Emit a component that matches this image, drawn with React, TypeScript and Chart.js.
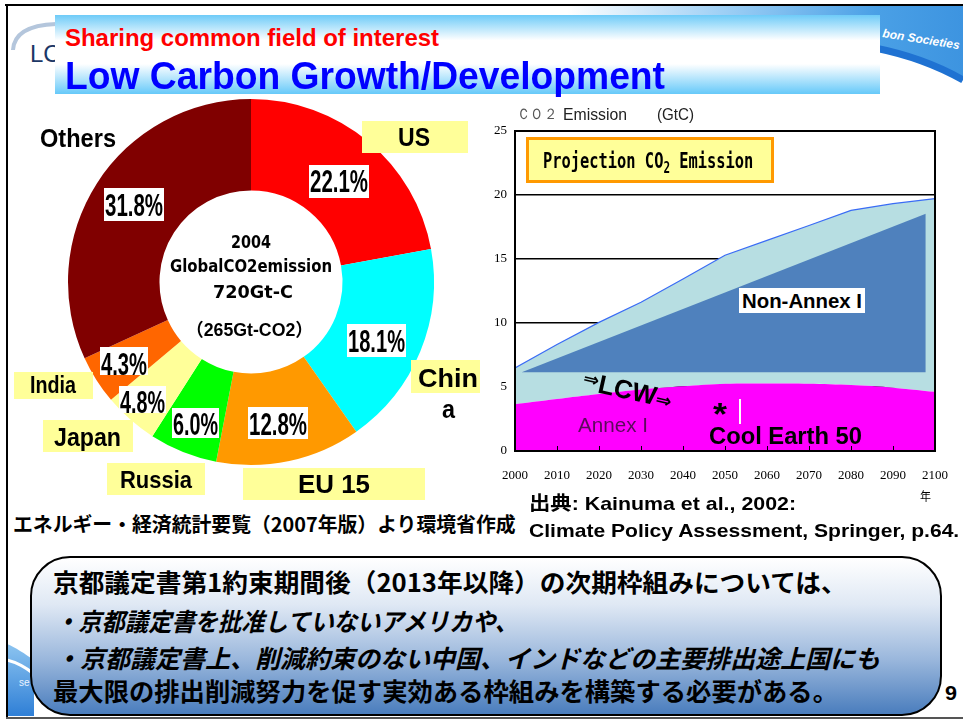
import React, { useEffect, useRef } from "react";
import { Chart, registerables } from "chart.js";
Chart.register(...registerables);

// ---------- data ----------
const shareLabels = ["US", "China", "EU 15", "Russia", "Japan", "India", "Others"];
const shareValues = [22.1, 18.1, 12.8, 6.0, 4.8, 4.3, 31.8];
const shareColors = ["#FF0000", "#00FFFF", "#FF9900", "#00FF00", "#FFFF99", "#FF6600", "#800000"];

const years = [2000, 2010, 2020, 2030, 2040, 2050, 2060, 2070, 2080, 2090, 2100];
const annexI = [3.66, 4.06, 4.45, 4.8, 5.05, 5.25, 5.27, 5.25, 5.15, 4.95, 4.62];
const totalEmission = [6.49, 8.32, 10.05, 11.62, 13.43, 15.29, 16.45, 17.62, 18.8, 19.32, 19.72];
const nonAnnexX = [2001.6, 2097.8];
const nonAnnexTop = [6.15, 18.53];
const nonAnnexBase = [6.15, 6.15];
const yTicks = [0, 5, 10, 15, 20, 25];

// ---------- fonts ----------
const SANS = "'Liberation Sans', Arial, Helvetica, sans-serif";
const SANS_CJK = "'Liberation Sans', 'Noto Sans CJK JP', sans-serif";
const CJK = "'Noto Sans CJK JP', 'Noto Sans CJK SC', sans-serif";
const DEJA = "'DejaVu Sans', sans-serif";
const MONO = "'DejaVu Sans Mono', monospace";
const SERIF = "'Liberation Serif', 'Times New Roman', serif";

const mctx = document.createElement("canvas").getContext("2d") as CanvasRenderingContext2D;
function measure(text: string, font: string) {
  mctx.font = font;
  return mctx.measureText(text).width;
}

type TP = {
  t: string; x: number; cy: number; s: number; w?: number; c?: string; wt?: number;
  f?: string; it?: boolean; al?: "left" | "center"; yk?: number; z?: number;
};
function T({ t, x, cy, s, w, c = "#000", wt = 700, f = SANS, it = false, al = "left", yk = 0.49, z = 6 }: TP) {
  const font = `${it ? "italic " : ""}${wt} ${s}px ${f}`;
  const nat = measure(t, font) || 1;
  const sx = w ? w / nat : 1;
  const width = w ?? nat;
  const left = al === "center" ? x - width / 2 : x;
  return (
    <div
      style={{
        position: "absolute", left, top: cy - yk * s, fontFamily: f, fontSize: s, fontWeight: wt,
        fontStyle: it ? "italic" : "normal", lineHeight: `${s}px`, color: c, whiteSpace: "nowrap",
        transform: `scaleX(${sx})`, transformOrigin: "0 0", zIndex: z,
      }}
    >
      {t}
    </div>
  );
}

function Box({ x, y, w, h, bg, z = 5, border }: { x: number; y: number; w: number; h: number; bg: string; z?: number; border?: string }) {
  return (
    <div style={{ position: "absolute", left: x, top: y, width: w, height: h, background: bg, zIndex: z, border, boxSizing: "border-box" }} />
  );
}

// ---------- charts ----------
function Donut() {
  const ref = useRef<HTMLCanvasElement>(null);
  useEffect(() => {
    const chart = new Chart(ref.current as HTMLCanvasElement, {
      type: "doughnut",
      data: {
        labels: shareLabels,
        datasets: [{ data: shareValues, backgroundColor: shareColors, borderWidth: 0 }],
      },
      options: {
        animation: false,
        responsive: false,
        cutout: "50%",
        layout: { padding: 7 },
        plugins: { legend: { display: false }, tooltip: { enabled: false } },
      },
    });
    return () => chart.destroy();
  }, []);
  return (
    <canvas ref={ref} width={380} height={380}
      style={{ position: "absolute", left: 61, top: 92, width: 380, height: 380, zIndex: 1 }} />
  );
}

const framePlugin = {
  id: "frame",
  afterDatasetsDraw(chart: any) {
    const { ctx, chartArea: a, scales } = chart;
    ctx.save();
    ctx.strokeStyle = "#000";
    ctx.lineWidth = 1;
    years.slice(1, -1).forEach((v) => {
      const px = Math.round(scales.x.getPixelForValue(v)) + 0.5;
      ctx.beginPath();
      ctx.moveTo(px, a.bottom);
      ctx.lineTo(px, a.bottom - 5);
      ctx.stroke();
    });
    ctx.lineWidth = 2;
    ctx.strokeRect(a.left, a.top, a.right - a.left, a.bottom - a.top);
    ctx.restore();
  },
};

function AreaChart() {
  const ref = useRef<HTMLCanvasElement>(null);
  useEffect(() => {
    const chart = new Chart(ref.current as HTMLCanvasElement, {
      type: "line",
      data: {
        datasets: [
          {
            label: "Non-Annex I",
            data: nonAnnexX.map((x, i) => ({ x, y: nonAnnexTop[i] })),
            borderWidth: 0, borderColor: "rgba(0,0,0,0)", pointRadius: 0,
            fill: 1, backgroundColor: "#4F81BD",
          },
          {
            label: "base",
            data: nonAnnexX.map((x, i) => ({ x, y: nonAnnexBase[i] })),
            borderWidth: 0, borderColor: "rgba(0,0,0,0)", pointRadius: 0, fill: false,
          },
          {
            label: "Annex I",
            data: years.map((x, i) => ({ x, y: annexI[i] })),
            borderWidth: 0, borderColor: "rgba(0,0,0,0)", pointRadius: 0,
            fill: "origin", backgroundColor: "#FF00FF", tension: 0.3,
          },
          {
            label: "Total",
            data: years.map((x, i) => ({ x, y: totalEmission[i] })),
            borderWidth: 1.2, borderColor: "#3A6CF5", pointRadius: 0,
            fill: 2, backgroundColor: "#B7DEE2", tension: 0,
          },
        ],
      },
      options: {
        animation: false,
        responsive: false,
        layout: { padding: { top: 21, right: 0, left: 0, bottom: 0 } },
        plugins: { legend: { display: false }, tooltip: { enabled: false } },
        scales: {
          x: {
            type: "linear", min: 2000, max: 2100,
            afterFit: (s: any) => { s.height = 40; },
            afterBuildTicks: (s: any) => { s.ticks = years.map((v) => ({ value: v })); },
            grid: { display: false, drawTicks: false },
            border: { display: false },
            ticks: {
              autoSkip: false, maxRotation: 0, padding: 17, color: "#000",
              font: { family: SERIF, size: 13 }, callback: (v: any) => String(v),
            },
          },
          y: {
            min: 0, max: 25,
            afterFit: (s: any) => { s.width = 45; },
            afterBuildTicks: (s: any) => { s.ticks = yTicks.map((v) => ({ value: v })); },
            grid: { color: "#000", lineWidth: 1.5, drawTicks: false },
            border: { display: false },
            ticks: { padding: 8, color: "#000", font: { family: SERIF, size: 13 }, callback: (v: any) => String(v) },
          },
        },
      },
      plugins: [framePlugin],
    });
    return () => chart.destroy();
  }, []);
  return (
    <canvas ref={ref} width={495} height={381}
      style={{ position: "absolute", left: 470, top: 110, width: 495, height: 381, zIndex: 1 }} />
  );
}

// ---------- app ----------
export default function App() {
  const projFont = `700 21px ${MONO}`;
  return (
    <div style={{ position: "absolute", left: 0, top: 0, width: 963, height: 722, background: "#fff", overflow: "hidden" }}>
      {/* background decorations */}
      <svg style={{ position: "absolute", left: 0, top: 0, zIndex: 0 }} width={963} height={130}>
        <defs>
          <linearGradient id="skyG" x1="0" y1="0" x2="1" y2="0">
            <stop offset="0" stopColor="#ffffff" />
            <stop offset="0.18" stopColor="#ffffff" />
            <stop offset="0.5" stopColor="#9fd0f5" />
            <stop offset="0.82" stopColor="#4aa0e6" />
            <stop offset="1" stopColor="#3d94e0" />
          </linearGradient>
        </defs>
        <path d="M480 6 L963 6 L963 80 C935 64 905 54 875 48 C780 36 640 24 480 14 Z" fill="url(#skyG)" />
        <path d="M875 48 C905 54 935 64 963 80" stroke="#1f72d2" strokeWidth={7} fill="none" />
        <text x={882} y={37} fill="#ffffff" fontSize={12} fontStyle="italic" fontWeight="bold"
          fontFamily={SANS} transform="rotate(9 882 37)">bon Societies</text>
        <path d="M13 50 C14 33 30 25 56 24" stroke="#b4c6dc" strokeWidth={4} fill="none" />
        <text x={30} y={62} fill="#1c3766" fontSize={24} fontFamily={SANS}>LC</text>
      </svg>
      <svg style={{ position: "absolute", left: 0, top: 630, zIndex: 0 }} width={40} height={92}>
        <defs>
          <linearGradient id="blG" x1="0" y1="0" x2="0" y2="1">
            <stop offset="0" stopColor="#8cc4f0" />
            <stop offset="1" stopColor="#2f7fd6" />
          </linearGradient>
        </defs>
        <path d="M7 14 C15 17 25 24 34 30 L34 86 L7 86 Z" fill="url(#blG)" />
        <path d="M7 30 C15 32 24 36 34 44" stroke="#ffffff" strokeWidth={3} fill="none" />
        <text x={19} y={56} fill="#e8f2ff" fontSize={10} fontFamily={SANS}>se</text>
      </svg>

      {/* slide frame */}
      <div style={{ position: "absolute", left: 5, top: 4, width: 958, height: 2, background: "#000", zIndex: 3 }} />
      <div style={{ position: "absolute", left: 6, top: 4, width: 2, height: 715, background: "#000", zIndex: 3 }} />
      <div style={{ position: "absolute", left: 6, top: 717, width: 957, height: 2, background: "#555", zIndex: 3 }} />

      {/* title */}
      <div style={{
        position: "absolute", left: 55, top: 15, width: 825, height: 79, zIndex: 2,
        background: "linear-gradient(to bottom, #6ECBF8 0%, #ffffff 32%, #ffffff 62%, #66C9F9 100%)",
      }} />
      <T t="Sharing common field of interest" x={65} cy={37.5} s={24} w={374} c="#FF0000" />
      <T t="Low Carbon Growth/Development" x={65} cy={76} s={38} w={600} c="#0000FF" />

      {/* donut */}
      <Donut />
      <T t="2004" x={251} cy={242} s={18} w={40} al="center" f={DEJA} yk={0.48} />
      <T t="GlobalCO2emission" x={251} cy={266} s={18} w={162} al="center" f={DEJA} yk={0.48} />
      <T t="720Gt-C" x={253} cy={292} s={18} w={80} al="center" f={DEJA} yk={0.48} />
      <T t="（265Gt-CO2）" x={249} cy={330} s={18} w={127} al="center" f={SANS_CJK} wt={700} yk={0.49} />

      <T t="Others" x={40} cy={138} s={26} w={76} />
      <Box x={362} y={121} w={106} h={32} bg="#FFFF99" />
      <T t="US" x={414} cy={137} s={25} w={32} al="center" />
      <Box x={309} y={165} w={60} h={33} bg="#FFFFFF" />
      <T t="22.1%" x={339} cy={181} s={32} w={58} al="center" />
      <Box x={104} y={188} w={60} h={33} bg="#FFFFFF" />
      <T t="31.8%" x={134} cy={204.5} s={32} w={58} al="center" />
      <Box x={347} y={324} w={59} h={33} bg="#FFFFFF" />
      <T t="18.1%" x={376.5} cy={341} s={32} w={57} al="center" />
      <Box x={411} y={360} w={69} h={33} bg="#FFFF99" />
      <T t="Chin" x={418} cy={378} s={25} w={60} />
      <T t="a" x={442} cy={409} s={25} w={13} />
      <Box x={248} y={407} w={60} h={32} bg="#FFFFFF" />
      <T t="12.8%" x={278} cy={424} s={32} w={58} al="center" />
      <Box x={243} y={468} w={182} h={32} bg="#FFFF99" />
      <T t="EU 15" x={334} cy={484} s={25} w={72} al="center" />
      <Box x={172} y={408} w={47} h={30} bg="#FFFFFF" />
      <T t="6.0%" x={195.5} cy={424} s={32} w={45} al="center" />
      <Box x={107} y={463} w={98} h={32} bg="#FFFF99" />
      <T t="Russia" x={156} cy={480} s={24} w={72} al="center" />
      <Box x={119} y={386} w={47} h={27} bg="#FFFFFF" />
      <T t="4.8%" x={142.5} cy={401.5} s={32} w={45} al="center" />
      <Box x={43} y={420} w={90} h={32} bg="#FFFF99" />
      <T t="Japan" x={87.5} cy={437} s={25} w={67} al="center" />
      <Box x={100} y={347} w={48} h={28} bg="#FFFFFF" />
      <T t="4.3%" x={124} cy={364} s={32} w={46} al="center" />
      <Box x={14} y={372} w={79} h={27} bg="#FFFF99" />
      <T t="India" x={53} cy={385} s={23} w={46} al="center" />

      {/* area chart */}
      <AreaChart />
      <T t="ＣＯ２" x={517} cy={115} s={15} w={40} f={SERIF} wt={400} c="#555" yk={0.55} />
      <T t="Emission" x={563} cy={115} s={16} w={64} wt={400} c="#222" />
      <T t="(GtC)" x={657} cy={115} s={16} w={37} wt={400} c="#222" />

      <Box x={526} y={137} w={248} h={46} bg="#FFFF99" border="3px solid #FF9900" />
      <div style={{
        position: "absolute", left: 543, top: 161 - 0.48 * 21, fontFamily: MONO, fontSize: 21, fontWeight: 700,
        lineHeight: "21px", whiteSpace: "nowrap", zIndex: 6, color: "#000",
        transform: `scaleX(${213 / (measure("Projection CO2 Emission", projFont) || 1)})`, transformOrigin: "0 0",
      }}>
        Projection CO<span style={{ fontSize: 15, verticalAlign: "-5px" }}>2</span> Emission
      </div>

      <Box x={739} y={288} w={126} h={25} bg="#FFFFFF" />
      <T t="Non-Annex I" x={802} cy={300.5} s={21} w={120} al="center" />

      <div style={{
        position: "absolute", left: 583, top: 364, lineHeight: "26px", whiteSpace: "nowrap", zIndex: 6,
        transform: "rotate(12.5deg)", transformOrigin: "0 50%", color: "#000", fontWeight: 700,
      }}>
        <span style={{ fontFamily: DEJA, fontSize: 19, verticalAlign: "5px" }}>⇒</span>
        <span style={{ fontFamily: SANS, fontSize: 26 }}>LCW</span>
        <span style={{ fontFamily: DEJA, fontSize: 19 }}>⇒</span>
      </div>

      <T t="Annex I" x={578} cy={425} s={20} w={70} wt={400} c="#5c0a5c" />
      <T t="*" x={713} cy={414} s={32} w={14} />
      <div style={{ position: "absolute", left: 739, top: 399, width: 1.5, height: 25, background: "#fff", zIndex: 6 }} />
      <T t="Cool Earth 50" x={709} cy={436} s={23} w={153} />

      <T t="年" x={920} cy={497} s={12} w={11} f={CJK} wt={400} yk={0.556} />
      <T t="出典: Kainuma et al., 2002:" x={529} cy={503} s={19} w={267} f={SANS_CJK} />
      <T t="Climate Policy Assessment, Springer, p.64." x={529} cy={530} s={19} w={431} />
      <T t="エネルギー・経済統計要覧（2007年版）より環境省作成" x={13} cy={525} s={20} w={503} f={CJK} yk={0.556} />

      {/* bottom message box */}
      <div style={{
        position: "absolute", left: 30, top: 556, width: 912, height: 160, zIndex: 4, boxSizing: "border-box",
        border: "2.5px solid #000", borderRadius: 40,
        background: "linear-gradient(to bottom, #ffffff 0%, #dfe8f4 30%, #9ab7dc 65%, #4a7dbd 100%)",
      }} />
      <T t="京都議定書第1約束期間後（2013年以降）の次期枠組みについては、" x={53} cy={583} s={25} w={795} f={CJK} yk={0.556} />
      <T t="・京都議定書を批准していないアメリカや、" x={55} cy={622} s={25} w={465} f={CJK} it yk={0.556} />
      <T t="・京都議定書上、削減約束のない中国、インドなどの主要排出途上国にも" x={55} cy={659} s={25} w={825} f={CJK} it yk={0.556} />
      <T t="最大限の排出削減努力を促す実効ある枠組みを構築する必要がある。" x={53} cy={692} s={25} w={785} f={CJK} yk={0.556} />
      <T t="9" x={945} cy={693} s={20} w={12} />
    </div>
  );
}
